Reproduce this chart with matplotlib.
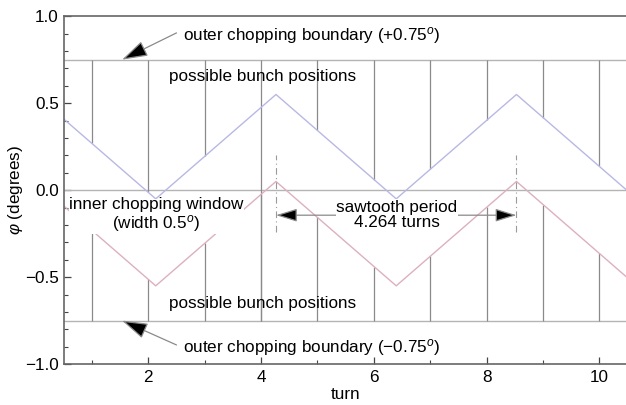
import numpy as np
import matplotlib
matplotlib.use("Agg")
import matplotlib.pyplot as plt
from matplotlib.ticker import MultipleLocator

plt.rcParams['font.family'] = ['Liberation Sans', 'DejaVu Sans']
plt.rcParams['mathtext.fontset'] = 'custom'
plt.rcParams['mathtext.rm'] = 'Liberation Sans'
plt.rcParams['mathtext.it'] = 'Liberation Sans:italic'

# sawtooth corners (turn, phase in degrees)
saw_turns = [0.0, 2.132, 4.264, 6.396, 8.528, 10.66]
outer_edge = [0.55, -0.05, 0.55, -0.05, 0.55, -0.05]
inner_edge = [0.05, -0.55, 0.05, -0.55, 0.05, -0.55]

# bunch positions at integer turns and where each line stops
bunch_turns = [1, 2, 3, 4, 5, 6, 7, 8, 9, 10]
upper_stop = [0.269, -0.013, 0.194, -0.75, 0.343, 0.061, 0.120, 0.401, 0.417, 0.136]
lower_stop = [-0.231, -0.513, -0.306, -0.024, -0.157, -0.439, -0.380, -0.099, -0.083, -0.364]

boundary = 0.75
period_marks = [4.264, 8.528]

fig = plt.figure(figsize=(6.26, 4.05), dpi=100)
ax = fig.add_axes([0.103, 0.101, 0.897, 0.859])

ax.axhline(boundary, color='#b4b4b4', lw=1.0)
ax.axhline(-boundary, color='#b4b4b4', lw=1.0)
ax.axhline(0.0, color='#b4b4b4', lw=1.0)

ax.vlines(bunch_turns, upper_stop, boundary, color='#8a8a8a', lw=0.9)
ax.vlines(bunch_turns, -boundary, lower_stop, color='#8a8a8a', lw=0.9)

ax.plot(saw_turns, outer_edge, color='#b8b8e4', lw=1.0)
ax.plot(saw_turns, inner_edge, color='#dcb0c0', lw=1.0)

ax.vlines(period_marks, -0.24, 0.2, color='#9a9a9a', lw=0.8, linestyles=(0, (6, 3, 1, 3)))

fs = 12.3
arr = dict(arrowstyle='-|>,head_length=1.6,head_width=0.5', mutation_scale=10,
           ec='#8a8a8a', fc='black', lw=0.9, shrinkA=0, shrinkB=0)
ax.annotate('', xy=(1.535, 0.75), xytext=(2.5, 0.904), arrowprops=arr)
ax.annotate('', xy=(1.535, -0.75), xytext=(2.5, -0.89), arrowprops=arr)
ax.text(2.62, 0.89, 'outer chopping boundary (+0.75$^o$)', fontsize=fs, va='center')
ax.text(2.62, -0.905, 'outer chopping boundary (\u22120.75$^o$)', fontsize=fs, va='center')

ax.text(4.02, 0.655, 'possible bunch positions', fontsize=fs, ha='center', va='center')
ax.text(4.02, -0.65, 'possible bunch positions', fontsize=fs, ha='center', va='center')

ax.text(2.145, -0.145, 'inner chopping window\n(width 0.5$^o$)', fontsize=fs,
        ha='center', va='center', linespacing=1.05,
        bbox=dict(fc='white', ec='none', pad=0.5))

arr2 = dict(arrowstyle='-|>,head_length=1.3,head_width=0.4', mutation_scale=10,
            ec='#8a8a8a', fc='black', lw=0.9, shrinkA=0, shrinkB=0)
ax.annotate('', xy=(period_marks[0], -0.144), xytext=(6.4, -0.144), arrowprops=arr2)
ax.annotate('', xy=(period_marks[1], -0.144), xytext=(6.4, -0.144), arrowprops=arr2)
ax.text(6.406, -0.142, 'sawtooth period\n4.264 turns', fontsize=fs,
        ha='center', va='center', linespacing=0.95,
        bbox=dict(fc='white', ec='none', pad=0.5))

ax.set_xlim(0.514, 10.47)
ax.set_ylim(-1.0, 1.0)
ax.xaxis.set_major_locator(MultipleLocator(2))
ax.xaxis.set_minor_locator(MultipleLocator(1))
ax.yaxis.set_major_locator(MultipleLocator(0.5))
ax.yaxis.set_minor_locator(MultipleLocator(0.1))
ax.yaxis.set_major_formatter(plt.FuncFormatter(lambda v, p: ('%.1f' % v).replace('-', '\u2212')))
ax.tick_params(which='both', direction='in', color='#444444', labelsize=fs, top=False, right=False)
ax.tick_params(which='major', length=5, width=0.9, pad=4)
ax.tick_params(which='minor', length=3, width=0.8)
for s in ['left', 'bottom', 'top']:
    ax.spines[s].set_color('#666666')
    ax.spines[s].set_linewidth(1.2)
ax.spines['right'].set_visible(False)

ax.set_xlabel('turn', fontsize=fs, labelpad=2)
ax.set_ylabel('$\\varphi$ (degrees)', fontsize=fs, labelpad=0)

fig.savefig('out.png', dpi=100)
